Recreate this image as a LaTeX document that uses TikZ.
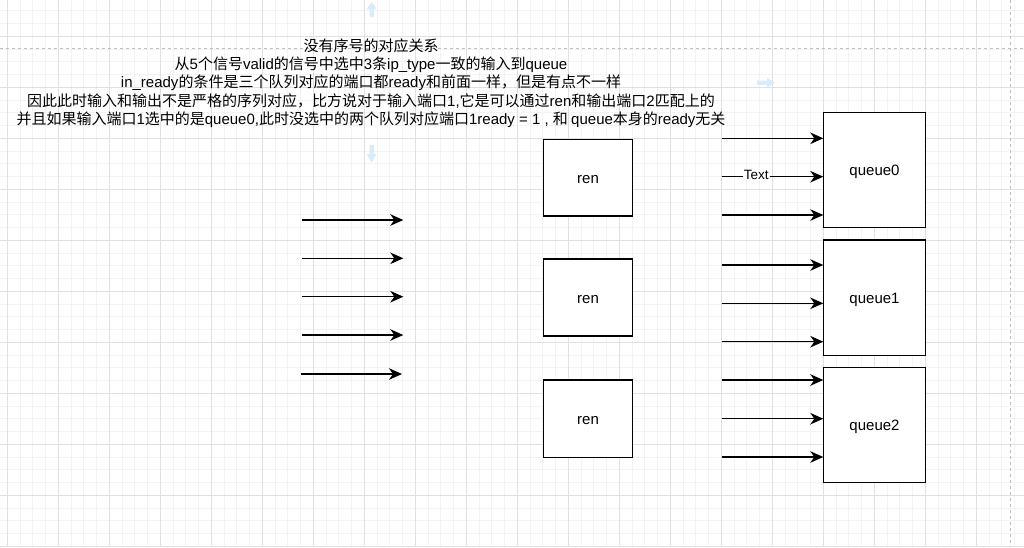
\documentclass[tikz,border=0pt]{standalone}
\usepackage{fontspec}
\setmainfont{Liberation Sans}
\newfontfamily\cjkfam{Noto Sans CJK SC}
\newfontfamily\latfam{Liberation Sans}
\usetikzlibrary{arrows.meta}
\newcount\cjkc
\cjkc="4E00
\loop \XeTeXcharclass\cjkc=1 \advance\cjkc by 1 \ifnum\cjkc<"A000 \repeat
\XeTeXcharclass"FF0C=1
\XeTeXinterchartokenstate=1
\XeTeXinterchartoks 0 1 = {\cjkfam}
\XeTeXinterchartoks 4095 1 = {\cjkfam}
\XeTeXinterchartoks 1 0 = {\latfam}
\XeTeXinterchartoks 4095 0 = {\latfam}
\definecolor{gridminor}{RGB}{243,243,243}
\definecolor{gridmajor}{RGB}{224,224,224}
\definecolor{pagedash}{RGB}{190,190,190}
\definecolor{hoverblue}{RGB}{218,236,250}
\tikzset{
  box/.style={draw=black, line width=1.4pt, fill=white, inner sep=0pt, outer sep=0pt,
    text height=13pt, text depth=1.4pt, font=\fontsize{15}{18}\selectfont},
  arr/.style={draw=black, line width=1.35pt, -{Stealth[length=13pt,width=11.5pt,inset=4pt]}},
  arrthin/.style={arr, line width=1.1pt},
  lbl/.style={fill=white, inner xsep=1pt, inner ysep=0pt, font=\fontsize{13.5}{15}\selectfont},
  hover/.style={fill=hoverblue, draw=none},
}
\begin{document}
\begin{tikzpicture}[x=1pt,y=-1pt]
\useasboundingbox (0,0) rectangle (1024,547);
\fill[white] (0,0) rectangle (1024,547);
% grid
\foreach \i in {0,...,80} {
  \draw[gridminor, line width=0.8pt] ({7.3+12.75*\i},0) -- ++(0,547);
}
\foreach \i in {0,...,43} {
  \draw[gridminor, line width=0.8pt] (0,{10.8+12.75*\i}) -- ++(1024,0);
}
\foreach \i in {0,...,20} {
  \draw[gridmajor, line width=0.9pt] ({7.3+51*\i},0) -- ++(0,547);
}
\foreach \i in {0,...,10} {
  \draw[gridmajor, line width=0.9pt] (0,{36.3+51*\i}) -- ++(1024,0);
}
% page break lines
\draw[pagedash, line width=0.8pt, dash pattern=on 3pt off 3pt] (0,48.3) -- (1024,48.3);
\draw[pagedash, line width=0.8pt, dash pattern=on 3pt off 3pt] (1010.7,0) -- (1010.7,547);
% hover arrows
\fill[hover] (369.5,17) -- (369.5,9) -- (366.8,9) -- (371.7,1.7) -- (376.5,9) -- (373.8,9) -- (373.8,17) -- cycle;
\fill[hover] (757,80.5) -- (767,80.5) -- (767,77.8) -- (775,82.6) -- (767,87.4) -- (767,84.8) -- (757,84.8) -- cycle;
\fill[hover] (369.5,145) -- (369.5,154) -- (366.8,154) -- (371.7,162.7) -- (376.5,154) -- (373.8,154) -- (373.8,145) -- cycle;
% title text
\node[align=center, inner sep=0pt, font=\fontsize{15}{18.3}\selectfont] (title) at (371,83) {%
没有序号的对应关系\\
从5个信号valid的信号中选中3条ip\_type一致的输入到queue\\
in\_ready的条件是三个队列对应的端口都ready和前面一样，但是有点不一样\\
因此此时输入和输出不是严格的序列对应，比方说对于输入端口1,它是可以通过ren和输出端口2匹配上的\\
并且如果输入端口1选中的是queue0,此时没选中的两个队列对应端口1ready = 1 , 和 queue本身的ready无关};
% ren boxes
\node[box, minimum width=89.4pt, minimum height=76.7pt] (ren1) at (588,177.7) {ren};
\node[box, minimum width=89.4pt, minimum height=77pt] (ren2) at (588,297.5) {ren};
\node[box, minimum width=89.4pt, minimum height=77.3pt] (ren3) at (588,418.7) {ren};
% queue boxes
\node[box, minimum width=102.4pt, minimum height=115.4pt] (q0) at (874.5,170) {queue0};
\node[box, minimum width=102.4pt, minimum height=115.3pt] (q1) at (874.5,297.7) {queue1};
\node[box, minimum width=102.4pt, minimum height=115.4pt] (q2) at (874.5,425) {queue2};
% left arrows
\coordinate (l1a) at (302,220); \coordinate (l1b) at (403.3,220);
\coordinate (l2a) at (302,258.3); \coordinate (l2b) at (403.3,258.3);
\coordinate (l3a) at (302,296.7); \coordinate (l3b) at (403.3,296.7);
\coordinate (l4a) at (302,335); \coordinate (l4b) at (403.3,335);
\coordinate (l5a) at (300.7,374); \coordinate (l5b) at (402,374);
\draw[arr, line width=1.6pt] (l1a) -- (l1b);
\draw[arrthin] (l2a) -- (l2b);
\draw[arrthin] (l3a) -- (l3b);
\draw[arr, line width=1.6pt] (l4a) -- (l4b);
\draw[arrthin] (l5a) -- (l5b);
% arrows into queues
\coordinate (a01) at (721.7,138.3);
\coordinate (a02) at (721.7,176.7);
\coordinate (a03) at (721.7,215);
\coordinate (a11) at (721.7,265);
\coordinate (a12) at (721.7,303.3);
\coordinate (a13) at (721.7,341.7);
\coordinate (a21) at (721.7,380);
\coordinate (a22) at (721.7,418.7);
\coordinate (a23) at (721.7,457);
\draw[arr] (a01) -- (a01 -| q0.west);
\draw[arr] (a02) -- (a02 -| q0.west) node[lbl, pos=0.34, yshift=1.8pt] (txt) {Text};
\draw[arr] (a03) -- (a03 -| q0.west);
\draw[arr] (a11) -- (a11 -| q1.west);
\draw[arr] (a12) -- (a12 -| q1.west);
\draw[arr] (a13) -- (a13 -| q1.west);
\draw[arr] (a21) -- (a21 -| q2.west);
\draw[arr] (a22) -- (a22 -| q2.west);
\draw[arr] (a23) -- (a23 -| q2.west);
\end{tikzpicture}
\end{document}
